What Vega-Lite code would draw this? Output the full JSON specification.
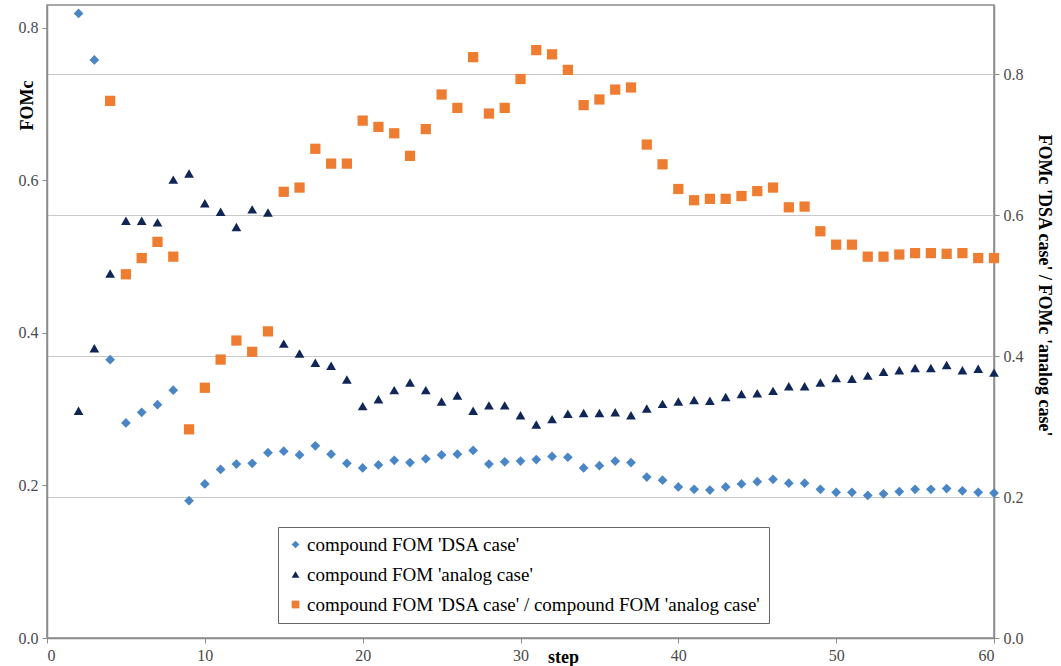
{
  "$schema": "https://vega.github.io/schema/vega-lite/v6.json",
  "width": 947,
  "height": 633,
  "autosize": {"type": "none"},
  "padding": {"left": 47, "top": 5, "right": 67, "bottom": 28},
  "background": "white",
  "config": {
    "font": "Liberation Serif, serif",
    "style": {
      "guide-label": {"font": "Liberation Serif, serif"},
      "guide-title": {"font": "Liberation Serif, serif"}
    },
    "view": {"stroke": "#8c8c8c", "strokeWidth": 1.5},
    "axis": {
      "labelFont": "Liberation Serif, serif",
      "titleFont": "Liberation Serif, serif",
      "labelFontSize": 16,
      "labelColor": "#4a4a4a",
      "titleFontSize": 18,
      "titleFontWeight": "bold",
      "titleColor": "black",
      "domainColor": "#8c8c8c",
      "domainWidth": 1.5,
      "tickColor": "#8c8c8c",
      "tickSize": 5,
      "labelPadding": 4,
      "grid": false
    },
    "legend": {
      "labelFont": "Liberation Serif, serif",
      "labelFontSize": 19,
      "labelColor": "black",
      "labelLimit": 700,
      "symbolSize": 60,
      "symbolStrokeWidth": 0,
      "padding": 8,
      "rowPadding": 10,
      "strokeColor": "#666666",
      "fillColor": "white",
      "labelOffset": 2
    }
  },
  "data": {
    "values": [
      {"step": 2, "series": "DSA", "value": 0.819},
      {"step": 3, "series": "DSA", "value": 0.758},
      {"step": 4, "series": "DSA", "value": 0.365},
      {"step": 5, "series": "DSA", "value": 0.282},
      {"step": 6, "series": "DSA", "value": 0.296},
      {"step": 7, "series": "DSA", "value": 0.306},
      {"step": 8, "series": "DSA", "value": 0.325},
      {"step": 9, "series": "DSA", "value": 0.180},
      {"step": 10, "series": "DSA", "value": 0.202},
      {"step": 11, "series": "DSA", "value": 0.221},
      {"step": 12, "series": "DSA", "value": 0.228},
      {"step": 13, "series": "DSA", "value": 0.229},
      {"step": 14, "series": "DSA", "value": 0.243},
      {"step": 15, "series": "DSA", "value": 0.245},
      {"step": 16, "series": "DSA", "value": 0.240},
      {"step": 17, "series": "DSA", "value": 0.252},
      {"step": 18, "series": "DSA", "value": 0.241},
      {"step": 19, "series": "DSA", "value": 0.229},
      {"step": 20, "series": "DSA", "value": 0.223},
      {"step": 21, "series": "DSA", "value": 0.227},
      {"step": 22, "series": "DSA", "value": 0.233},
      {"step": 23, "series": "DSA", "value": 0.230},
      {"step": 24, "series": "DSA", "value": 0.235},
      {"step": 25, "series": "DSA", "value": 0.240},
      {"step": 26, "series": "DSA", "value": 0.241},
      {"step": 27, "series": "DSA", "value": 0.246},
      {"step": 28, "series": "DSA", "value": 0.228},
      {"step": 29, "series": "DSA", "value": 0.231},
      {"step": 30, "series": "DSA", "value": 0.232},
      {"step": 31, "series": "DSA", "value": 0.234},
      {"step": 32, "series": "DSA", "value": 0.238},
      {"step": 33, "series": "DSA", "value": 0.237},
      {"step": 34, "series": "DSA", "value": 0.223},
      {"step": 35, "series": "DSA", "value": 0.226},
      {"step": 36, "series": "DSA", "value": 0.232},
      {"step": 37, "series": "DSA", "value": 0.230},
      {"step": 38, "series": "DSA", "value": 0.211},
      {"step": 39, "series": "DSA", "value": 0.207},
      {"step": 40, "series": "DSA", "value": 0.198},
      {"step": 41, "series": "DSA", "value": 0.195},
      {"step": 42, "series": "DSA", "value": 0.194},
      {"step": 43, "series": "DSA", "value": 0.198},
      {"step": 44, "series": "DSA", "value": 0.202},
      {"step": 45, "series": "DSA", "value": 0.205},
      {"step": 46, "series": "DSA", "value": 0.208},
      {"step": 47, "series": "DSA", "value": 0.203},
      {"step": 48, "series": "DSA", "value": 0.203},
      {"step": 49, "series": "DSA", "value": 0.195},
      {"step": 50, "series": "DSA", "value": 0.191},
      {"step": 51, "series": "DSA", "value": 0.191},
      {"step": 52, "series": "DSA", "value": 0.187},
      {"step": 53, "series": "DSA", "value": 0.189},
      {"step": 54, "series": "DSA", "value": 0.192},
      {"step": 55, "series": "DSA", "value": 0.195},
      {"step": 56, "series": "DSA", "value": 0.195},
      {"step": 57, "series": "DSA", "value": 0.196},
      {"step": 58, "series": "DSA", "value": 0.193},
      {"step": 59, "series": "DSA", "value": 0.191},
      {"step": 60, "series": "DSA", "value": 0.190},
      {"step": 2, "series": "analog", "value": 0.298},
      {"step": 3, "series": "analog", "value": 0.380},
      {"step": 4, "series": "analog", "value": 0.478},
      {"step": 5, "series": "analog", "value": 0.547},
      {"step": 6, "series": "analog", "value": 0.547},
      {"step": 7, "series": "analog", "value": 0.545},
      {"step": 8, "series": "analog", "value": 0.601},
      {"step": 9, "series": "analog", "value": 0.609},
      {"step": 10, "series": "analog", "value": 0.570},
      {"step": 11, "series": "analog", "value": 0.559},
      {"step": 12, "series": "analog", "value": 0.539},
      {"step": 13, "series": "analog", "value": 0.562},
      {"step": 14, "series": "analog", "value": 0.558},
      {"step": 15, "series": "analog", "value": 0.386},
      {"step": 16, "series": "analog", "value": 0.373},
      {"step": 17, "series": "analog", "value": 0.361},
      {"step": 18, "series": "analog", "value": 0.357},
      {"step": 19, "series": "analog", "value": 0.339},
      {"step": 20, "series": "analog", "value": 0.304},
      {"step": 21, "series": "analog", "value": 0.313},
      {"step": 22, "series": "analog", "value": 0.325},
      {"step": 23, "series": "analog", "value": 0.335},
      {"step": 24, "series": "analog", "value": 0.325},
      {"step": 25, "series": "analog", "value": 0.310},
      {"step": 26, "series": "analog", "value": 0.318},
      {"step": 27, "series": "analog", "value": 0.298},
      {"step": 28, "series": "analog", "value": 0.305},
      {"step": 29, "series": "analog", "value": 0.305},
      {"step": 30, "series": "analog", "value": 0.292},
      {"step": 31, "series": "analog", "value": 0.280},
      {"step": 32, "series": "analog", "value": 0.287},
      {"step": 33, "series": "analog", "value": 0.294},
      {"step": 34, "series": "analog", "value": 0.295},
      {"step": 35, "series": "analog", "value": 0.295},
      {"step": 36, "series": "analog", "value": 0.296},
      {"step": 37, "series": "analog", "value": 0.292},
      {"step": 38, "series": "analog", "value": 0.301},
      {"step": 39, "series": "analog", "value": 0.307},
      {"step": 40, "series": "analog", "value": 0.310},
      {"step": 41, "series": "analog", "value": 0.312},
      {"step": 42, "series": "analog", "value": 0.311},
      {"step": 43, "series": "analog", "value": 0.316},
      {"step": 44, "series": "analog", "value": 0.320},
      {"step": 45, "series": "analog", "value": 0.321},
      {"step": 46, "series": "analog", "value": 0.324},
      {"step": 47, "series": "analog", "value": 0.330},
      {"step": 48, "series": "analog", "value": 0.330},
      {"step": 49, "series": "analog", "value": 0.335},
      {"step": 50, "series": "analog", "value": 0.341},
      {"step": 51, "series": "analog", "value": 0.340},
      {"step": 52, "series": "analog", "value": 0.344},
      {"step": 53, "series": "analog", "value": 0.349},
      {"step": 54, "series": "analog", "value": 0.351},
      {"step": 55, "series": "analog", "value": 0.354},
      {"step": 56, "series": "analog", "value": 0.354},
      {"step": 57, "series": "analog", "value": 0.358},
      {"step": 58, "series": "analog", "value": 0.351},
      {"step": 59, "series": "analog", "value": 0.353},
      {"step": 60, "series": "analog", "value": 0.348},
      {"step": 4, "series": "ratio", "value": 0.762},
      {"step": 5, "series": "ratio", "value": 0.516},
      {"step": 6, "series": "ratio", "value": 0.539},
      {"step": 7, "series": "ratio", "value": 0.562},
      {"step": 8, "series": "ratio", "value": 0.541},
      {"step": 9, "series": "ratio", "value": 0.296},
      {"step": 10, "series": "ratio", "value": 0.355},
      {"step": 11, "series": "ratio", "value": 0.395},
      {"step": 12, "series": "ratio", "value": 0.422},
      {"step": 13, "series": "ratio", "value": 0.406},
      {"step": 14, "series": "ratio", "value": 0.435},
      {"step": 15, "series": "ratio", "value": 0.633},
      {"step": 16, "series": "ratio", "value": 0.639},
      {"step": 17, "series": "ratio", "value": 0.694},
      {"step": 18, "series": "ratio", "value": 0.673},
      {"step": 19, "series": "ratio", "value": 0.673},
      {"step": 20, "series": "ratio", "value": 0.734},
      {"step": 21, "series": "ratio", "value": 0.725},
      {"step": 22, "series": "ratio", "value": 0.716},
      {"step": 23, "series": "ratio", "value": 0.684},
      {"step": 24, "series": "ratio", "value": 0.722},
      {"step": 25, "series": "ratio", "value": 0.771},
      {"step": 26, "series": "ratio", "value": 0.752},
      {"step": 27, "series": "ratio", "value": 0.824},
      {"step": 28, "series": "ratio", "value": 0.744},
      {"step": 29, "series": "ratio", "value": 0.752},
      {"step": 30, "series": "ratio", "value": 0.793},
      {"step": 31, "series": "ratio", "value": 0.834},
      {"step": 32, "series": "ratio", "value": 0.828},
      {"step": 33, "series": "ratio", "value": 0.806},
      {"step": 34, "series": "ratio", "value": 0.756},
      {"step": 35, "series": "ratio", "value": 0.764},
      {"step": 36, "series": "ratio", "value": 0.778},
      {"step": 37, "series": "ratio", "value": 0.781},
      {"step": 38, "series": "ratio", "value": 0.700},
      {"step": 39, "series": "ratio", "value": 0.672},
      {"step": 40, "series": "ratio", "value": 0.637},
      {"step": 41, "series": "ratio", "value": 0.621},
      {"step": 42, "series": "ratio", "value": 0.623},
      {"step": 43, "series": "ratio", "value": 0.623},
      {"step": 44, "series": "ratio", "value": 0.627},
      {"step": 45, "series": "ratio", "value": 0.634},
      {"step": 46, "series": "ratio", "value": 0.639},
      {"step": 47, "series": "ratio", "value": 0.611},
      {"step": 48, "series": "ratio", "value": 0.612},
      {"step": 49, "series": "ratio", "value": 0.577},
      {"step": 50, "series": "ratio", "value": 0.558},
      {"step": 51, "series": "ratio", "value": 0.558},
      {"step": 52, "series": "ratio", "value": 0.541},
      {"step": 53, "series": "ratio", "value": 0.541},
      {"step": 54, "series": "ratio", "value": 0.544},
      {"step": 55, "series": "ratio", "value": 0.546},
      {"step": 56, "series": "ratio", "value": 0.546},
      {"step": 57, "series": "ratio", "value": 0.545},
      {"step": 58, "series": "ratio", "value": 0.546},
      {"step": 59, "series": "ratio", "value": 0.539},
      {"step": 60, "series": "ratio", "value": 0.539}
    ]
  },
  "encoding": {
    "x": {
      "field": "step",
      "type": "quantitative",
      "scale": {"domain": [0, 60], "nice": false, "zero": true},
      "axis": {
        "values": [0, 10, 20, 30, 40, 50, 60],
        "title": "step",
        "titleX": 516,
        "titleY": 19,
        "titleBaseline": "middle",
        "titleAlign": "center",
        "labelFont": "Liberation Serif, serif"
      }
    },
    "color": {
      "field": "series",
      "type": "nominal",
      "scale": {"domain": ["DSA", "analog", "ratio"], "range": ["#4a86c5", "#0f2657", "#ee7d31"]},
      "legend": {
        "orient": "none",
        "legendX": 231,
        "legendY": 522,
        "title": null,
        "labelFont": "Liberation Serif, serif",
        "labelExpr": "datum.label == 'DSA' ? \"compound FOM 'DSA case'\" : datum.label == 'analog' ? \"compound FOM 'analog case'\" : \"compound FOM 'DSA case' / compound FOM 'analog case'\""
      }
    },
    "shape": {
      "field": "series",
      "type": "nominal",
      "scale": {"domain": ["DSA", "analog", "ratio"], "range": ["diamond", "triangle-up", "square"]},
      "legend": {
        "orient": "none",
        "legendX": 231,
        "legendY": 522,
        "title": null,
        "labelFont": "Liberation Serif, serif",
        "labelExpr": "datum.label == 'DSA' ? \"compound FOM 'DSA case'\" : datum.label == 'analog' ? \"compound FOM 'analog case'\" : \"compound FOM 'DSA case' / compound FOM 'analog case'\""
      }
    }
  },
  "layer": [
    {
      "transform": [{"filter": "datum.series != 'ratio'"}],
      "mark": {"type": "point", "filled": true, "opacity": 1, "size": 95, "strokeWidth": 0},
      "encoding": {
        "y": {
          "field": "value",
          "type": "quantitative",
          "scale": {"domain": [0, 0.83], "nice": false},
          "axis": {
            "orient": "left",
            "values": [0, 0.2, 0.4, 0.6, 0.8],
            "format": ".1f",
            "grid": false,
            "labelFont": "Liberation Serif, serif",
            "title": "FOMc",
            "titleAngle": -90,
            "titleX": -20,
            "titleY": 100,
            "titleAlign": "center",
            "titleBaseline": "middle"
          }
        }
      }
    },
    {
      "transform": [{"filter": "datum.series == 'ratio'"}],
      "mark": {"type": "point", "filled": true, "opacity": 1, "size": 105, "strokeWidth": 0},
      "encoding": {
        "y": {
          "field": "value",
          "type": "quantitative",
          "scale": {"domain": [0, 0.898], "nice": false},
          "axis": {
            "orient": "right",
            "values": [0, 0.2, 0.4, 0.6, 0.8],
            "format": ".1f",
            "grid": true,
            "gridColor": "#c8c8c8",
            "gridWidth": 1.2,
            "labelFont": "Liberation Serif, serif",
            "title": "FOMc 'DSA case' / FOMc 'analog case'",
            "titleAngle": 90,
            "titleX": 49,
            "titleY": 280,
            "titleAlign": "center",
            "titleBaseline": "middle"
          }
        }
      }
    }
  ],
  "resolve": {"scale": {"y": "independent"}}
}
